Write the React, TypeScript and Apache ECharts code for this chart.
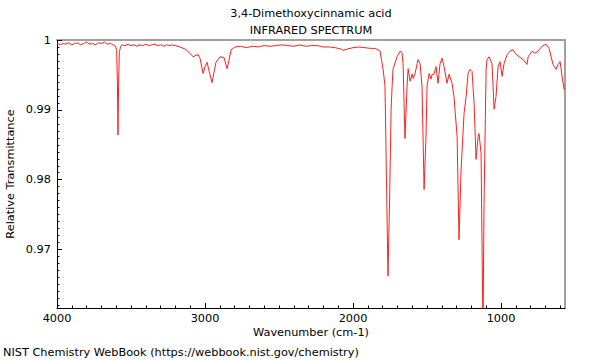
import React, { useEffect, useRef } from "react";
import * as echarts from "echarts";

// [wavenumber (cm-1), relative transmittance]
const spectrum: [number, number][] = [
  [4000, 0.9996], [3980, 0.9993], [3960, 0.9995], [3940, 0.9994], [3920, 0.9996],
  [3900, 0.9993], [3880, 0.9995], [3860, 0.9996], [3840, 0.9993], [3820, 0.9995],
  [3800, 0.9997], [3780, 0.9994], [3760, 0.9995], [3740, 0.9993], [3720, 0.9996],
  [3700, 0.9995], [3680, 0.9997], [3660, 0.9994], [3640, 0.9995], [3620, 0.9993],
  [3605, 0.9991], [3597, 0.9985], [3592, 0.994], [3588, 0.9864], [3584, 0.9935],
  [3579, 0.9982], [3570, 0.9991], [3560, 0.9993], [3540, 0.9992], [3520, 0.9994],
  [3500, 0.9992], [3480, 0.9993], [3460, 0.9991], [3440, 0.9993], [3420, 0.9992],
  [3400, 0.9994], [3380, 0.9992], [3360, 0.9993], [3340, 0.9994], [3320, 0.9992],
  [3300, 0.9993], [3280, 0.9991], [3260, 0.9993], [3240, 0.9992], [3220, 0.9993],
  [3200, 0.9992], [3169, 0.999], [3135, 0.9987], [3101, 0.9981], [3081, 0.9976],
  [3061, 0.9978], [3047, 0.9979], [3034, 0.9974], [3013, 0.9952], [3000, 0.9962],
  [2986, 0.9968], [2973, 0.9956], [2953, 0.9939], [2939, 0.9954], [2926, 0.9968],
  [2899, 0.9976], [2872, 0.9975], [2851, 0.9959], [2838, 0.9971], [2824, 0.9986],
  [2797, 0.999], [2760, 0.9991], [2720, 0.9989], [2680, 0.9991], [2640, 0.999],
  [2600, 0.9992], [2560, 0.9991], [2520, 0.9992], [2480, 0.9993], [2440, 0.9992],
  [2400, 0.9991], [2360, 0.9993], [2320, 0.9991], [2280, 0.9992], [2240, 0.9992],
  [2200, 0.999], [2160, 0.999], [2120, 0.9989], [2080, 0.9987], [2067, 0.9985],
  [2040, 0.9987], [2000, 0.9989], [1960, 0.999], [1920, 0.9989], [1880, 0.9988],
  [1851, 0.9988], [1817, 0.9984], [1797, 0.9958], [1784, 0.9934], [1774, 0.9799],
  [1764, 0.9662], [1753, 0.9771], [1743, 0.9899], [1736, 0.9934], [1730, 0.9958],
  [1703, 0.9976], [1682, 0.9984], [1669, 0.9982], [1662, 0.9966], [1649, 0.9859],
  [1635, 0.9934], [1628, 0.9959], [1615, 0.9941], [1601, 0.9951], [1594, 0.9945],
  [1581, 0.9952], [1567, 0.9966], [1561, 0.9972], [1547, 0.9966], [1534, 0.9934],
  [1520, 0.9786], [1507, 0.9862], [1500, 0.9934], [1486, 0.9952], [1473, 0.9944],
  [1466, 0.9951], [1453, 0.9951], [1439, 0.9962], [1426, 0.9938], [1412, 0.9966],
  [1399, 0.9974], [1385, 0.9962], [1365, 0.9938], [1351, 0.9951], [1331, 0.9938],
  [1318, 0.9919], [1297, 0.9862], [1284, 0.9714], [1270, 0.9814], [1264, 0.9838],
  [1250, 0.9895], [1236, 0.9919], [1223, 0.9952], [1209, 0.9958], [1196, 0.9955],
  [1182, 0.9909], [1169, 0.9829], [1155, 0.9862], [1149, 0.9866], [1135, 0.9838],
  [1122, 0.958], [1115, 0.9766], [1101, 0.9958], [1095, 0.9972], [1081, 0.9976],
  [1061, 0.9966], [1054, 0.9934], [1047, 0.9901], [1034, 0.9919], [1020, 0.9962],
  [1007, 0.9969], [993, 0.9948], [980, 0.9966], [959, 0.9979], [939, 0.9984],
  [919, 0.9986], [905, 0.9981], [878, 0.9976], [851, 0.9972], [824, 0.9965],
  [817, 0.9976], [790, 0.9984], [770, 0.9981], [750, 0.9984], [723, 0.9991],
  [696, 0.9994], [676, 0.9988], [649, 0.9965], [628, 0.9958], [615, 0.9965],
  [601, 0.9969], [588, 0.9948], [574, 0.9929], [568, 0.993],
];

const xMajorTicks = [4000, 3000, 2000, 1000];
const yMajorTicks = [1, 0.99, 0.98, 0.97];
const X_MIN = 568;
const X_MAX = 4000;
const Y_MIN = 0.96164;
const Y_MAX = 1;

const xMinorTicks: number[] = [];
for (let v = 600; v <= 4000; v += 100) xMinorTicks.push(v);
const yMinorTicks: number[] = [];
for (let i = 962; i <= 1000; i++) yMinorTicks.push(i / 1000);

const FONT = '"DejaVu Sans", sans-serif';
const FS = 11.3;

export default function App() {
  const ref = useRef<HTMLDivElement>(null);
  useEffect(() => {
    if (!ref.current) return;
    const chart = echarts.init(ref.current, undefined, { renderer: "svg" });
    const baseX = {
      type: "value" as const,
      min: X_MIN,
      max: X_MAX,
      inverse: true,
      splitLine: { show: false },
      gridIndex: 0,
    };
    const baseY = {
      type: "value" as const,
      min: Y_MIN,
      max: Y_MAX,
      splitLine: { show: false },
      gridIndex: 0,
    };
    const txt = (text: string, x: number, y: number, align: string, rotation = 0) => ({
      type: "text",
      x,
      y,
      rotation,
      style: {
        text,
        font: `${FS}px ${FONT}`,
        fill: "#000",
        align,
        verticalAlign: "middle",
        textAlign: align,
        textVerticalAlign: "middle",
      },
    });
    chart.setOption({
      animation: false,
      backgroundColor: "#fff",
      grid: { left: 57, right: 35, top: 40, bottom: 52, containLabel: false },
      xAxis: [
        {
          ...baseX,
          position: "bottom",
          axisLine: { show: true, lineStyle: { color: "#000", width: 1 } },
          axisTick: { show: true, inside: true, length: 5, customValues: xMajorTicks, lineStyle: { color: "#000" } },
          axisLabel: {
            show: true,
            customValues: xMajorTicks,
            margin: 5,
            color: "#000",
            fontFamily: FONT,
            fontSize: FS,
            formatter: (v: number) => String(v),
          },
        },
        {
          ...baseX,
          position: "bottom",
          axisLine: { show: false },
          axisTick: { show: true, inside: true, length: 2.5, customValues: xMinorTicks, lineStyle: { color: "#000" } },
          axisLabel: { show: false },
        },
        {
          ...baseX,
          position: "top",
          axisLine: { show: true, lineStyle: { color: "#a0a0a0", width: 2 } },
          axisTick: { show: false },
          axisLabel: { show: false },
        },
      ],
      yAxis: [
        {
          ...baseY,
          position: "left",
          axisLine: { show: true, lineStyle: { color: "#000", width: 1 } },
          axisTick: { show: true, inside: true, length: 5, customValues: yMajorTicks, lineStyle: { color: "#000" } },
          axisLabel: {
            show: true,
            customValues: yMajorTicks,
            margin: 6,
            color: "#000",
            fontFamily: FONT,
            fontSize: FS,
            formatter: (v: number) => String(parseFloat(v.toFixed(3))),
          },
        },
        {
          ...baseY,
          position: "left",
          axisLine: { show: false },
          axisTick: { show: true, inside: true, length: 2.5, customValues: yMinorTicks, lineStyle: { color: "#000" } },
          axisLabel: { show: false },
        },
        {
          ...baseY,
          position: "right",
          axisLine: { show: true, lineStyle: { color: "#a0a0a0", width: 2 } },
          axisTick: { show: false },
          axisLabel: { show: false },
        },
      ],
      series: [
        {
          type: "line",
          xAxisIndex: 0,
          yAxisIndex: 0,
          data: spectrum,
          symbol: "none",
          showSymbol: false,
          clip: true,
          lineStyle: { color: "#ff2020", width: 1 },
        },
      ],
      graphic: [
        txt("3,4-Dimethoxycinnamic acid", 311, 13, "center"),
        txt("INFRARED SPECTRUM", 311, 30, "center"),
        txt("Wavenumber (cm-1)", 311, 332, "center"),
        txt("Relative Transmittance", 10, 174, "center", Math.PI / 2),
        txt("NIST Chemistry WebBook (https://webbook.nist.gov/chemistry)", 3, 352, "left"),
      ],
    });
    return () => chart.dispose();
  }, []);
  return (
    <div
      ref={ref}
      style={{ position: "fixed", left: 0, top: 0, width: 600, height: 360 }}
    />
  );
}
